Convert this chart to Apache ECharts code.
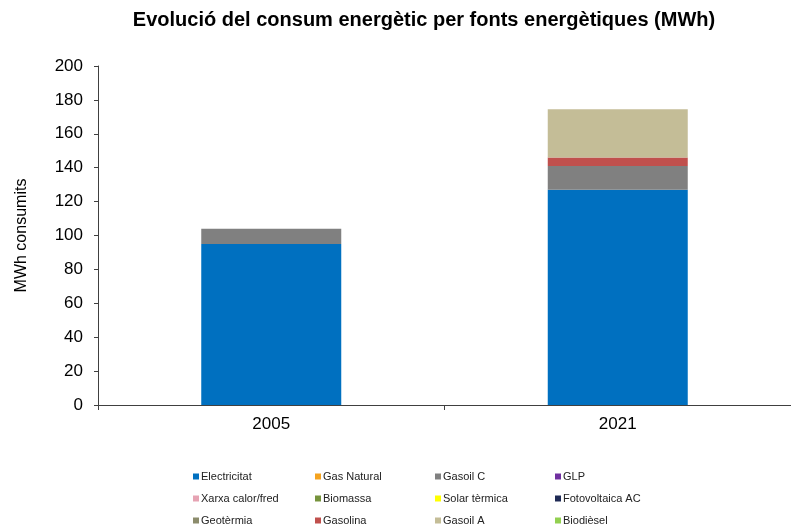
<!DOCTYPE html>
<html>
<head>
<meta charset="utf-8">
<script src="https://cdn.jsdelivr.net/npm/echarts@6/dist/echarts.min.js"></script>
<style>
  html, body { margin: 0; padding: 0; background: #fff; }
  #chart { width: 791px; height: 528px; }
</style>
</head>
<body>
<div id="chart"></div>
<script>
// Years on the category axis
const years = ['2005', '2021'];

// Energy sources (legend order) and their colours
const sources = [
  'Electricitat', 'Gas Natural', 'Gasoil C', 'GLP',
  'Xarxa calor/fred', 'Biomassa', 'Solar tèrmica', 'Fotovoltaica AC',
  'Geotèrmia', 'Gasolina', 'Gasoil A', 'Biodièsel'
];
const colors = [
  '#0070C0', '#F5A31F', '#808080', '#7030A0',
  '#E6A3B3', '#76933C', '#FFFF00', '#1F2A55',
  '#8C8C6C', '#C0504D', '#C4BD97', '#92D050'
];

// MWh consumed per source, [2005, 2021]
const electricitat = [95, 127];
const gasNatural = [0, 0];
const gasoilC = [9, 14];
const glp = [0, 0];
const xarxa = [0, 0];
const biomassa = [0, 0];
const solarTermica = [0, 0];
const fotovoltaica = [0, 0];
const geotermia = [0, 0];
const gasolina = [0, 5];
const gasoilA = [0, 28.5];
const biodiesel = [0, 0];

const values = [
  electricitat, gasNatural, gasoilC, glp,
  xarxa, biomassa, solarTermica, fotovoltaica,
  geotermia, gasolina, gasoilA, biodiesel
];

// Y axis ticks
const yMin = 0, yMax = 200, yStep = 20;

const font = 'Liberation Sans, Arial, sans-serif';
const axisColor = '#404040';

const series = sources.map((name, i) => ({
  name: name,
  type: 'bar',
  stack: 'total',
  barWidth: 140,
  data: values[i],
  itemStyle: { color: colors[i] }
}));

// Legend laid out as a 4 x 3 grid, one legend block per entry
const colX = [193, 315, 435, 555];
const rowY = [471, 493, 515];
const legends = sources.map((name, i) => ({
  data: [name],
  left: colX[i % 4],
  top: rowY[Math.floor(i / 4)],
  orient: 'horizontal',
  itemWidth: 6,
  itemHeight: 6,
  itemGap: 2,
  icon: 'rect',
  padding: 0,
  textStyle: { fontFamily: font, fontSize: 11, color: '#222', padding: [0, 0, 0, -3] },
  selectedMode: false
}));

const chart = echarts.init(document.getElementById('chart'), null, { renderer: 'canvas' });
chart.setOption({
  animation: false,
  backgroundColor: '#fff',
  title: {
    text: 'Evolució del consum energètic per fonts energètiques (MWh)',
    left: 419,
    top: 5,
    textAlign: 'center',
    textStyle: { fontFamily: font, fontSize: 20, fontWeight: 'bold', color: '#000' }
  },
  legend: legends,
  grid: { left: 98, top: 66, width: 698, height: 339, containLabel: false },
  xAxis: {
    type: 'category',
    data: years,
    axisLine: { lineStyle: { color: axisColor, width: 1 } },
    axisTick: { show: true, alignWithLabel: false, length: 5, lineStyle: { color: axisColor } },
    axisLabel: { fontFamily: font, fontSize: 17, color: '#000', margin: 11 }
  },
  yAxis: {
    type: 'value',
    min: yMin,
    max: yMax,
    interval: yStep,
    name: 'MWh consumits',
    nameLocation: 'middle',
    nameGap: 68,
    nameRotate: 90,
    nameTextStyle: { fontFamily: font, fontSize: 16, color: '#000' },
    axisLine: { show: true, lineStyle: { color: axisColor, width: 1 } },
    axisTick: { show: true, length: 4, lineStyle: { color: axisColor } },
    axisLabel: { fontFamily: font, fontSize: 17, color: '#000', margin: 15 },
    splitLine: { show: false }
  },
  series: series
});
</script>
</body>
</html>
